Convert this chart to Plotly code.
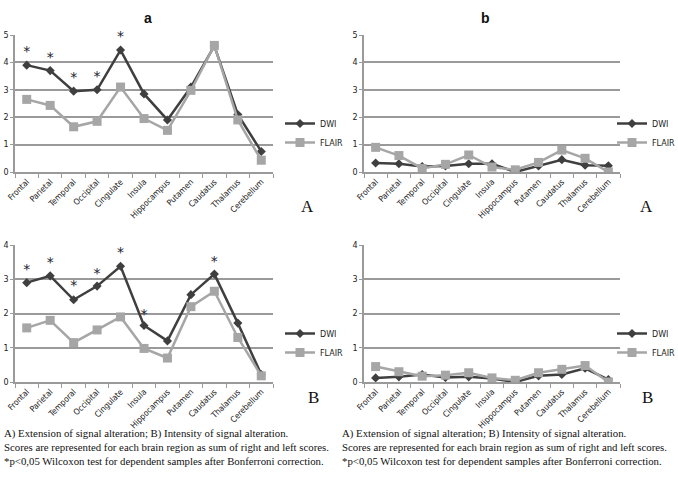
import plotly.graph_objects as go

regions = ['Frontal', 'Parietal', 'Temporal', 'Occipital', 'Cingulate', 'Insula',
           'Hippocampus', 'Putamen', 'Caudatus', 'Thalamus', 'Cerebellum']

# a, A) extension
a_ext_dwi = [3.9, 3.7, 2.95, 3.0, 4.45, 2.85, 1.9, 3.1, 4.6, 2.1, 0.75]
a_ext_flair = [2.65, 2.43, 1.65, 1.85, 3.1, 1.95, 1.52, 2.98, 4.62, 1.9, 0.43]
a_ext_star = [4.35, 4.15, 3.4, 3.45, 4.9, None, None, None, None, None, None]

# b, A) extension
b_ext_dwi = [0.33, 0.3, 0.2, 0.22, 0.3, 0.3, 0.0, 0.22, 0.45, 0.25, 0.23]
b_ext_flair = [0.9, 0.6, 0.13, 0.28, 0.62, 0.18, 0.08, 0.35, 0.8, 0.5, 0.0]

# a, B) intensity
a_int_dwi = [2.9, 3.1, 2.4, 2.8, 3.38, 1.65, 1.2, 2.55, 3.15, 1.72, 0.22]
a_int_flair = [1.58, 1.8, 1.15, 1.52, 1.9, 0.98, 0.7, 2.2, 2.65, 1.3, 0.18]
a_int_star = [3.25, 3.45, 2.8, 3.15, 3.75, 1.95, None, None, 3.5, None, None]

# b, B) intensity
b_int_dwi = [0.12, 0.15, 0.22, 0.13, 0.15, 0.1, 0.0, 0.18, 0.22, 0.4, 0.07]
b_int_flair = [0.45, 0.3, 0.17, 0.2, 0.27, 0.12, 0.05, 0.27, 0.37, 0.48, 0.0]

caption = ("A) Extension of signal alteration; B) Intensity of signal alteration.<br>"
           "Scores are represented for each brain region as sum of right and left scores.<br>"
           "*p&lt;0,05 Wilcoxon test for dependent samples after Bonferroni correction.")

W, H = 678, 484
DWI_C = '#3f3f3f'
FLAIR_C = '#a6a6a6'
GRID_C = '#9a9a9a'


def px(x):
    return x / W


def py(y):
    return 1 - y / H


fig = go.Figure()

# px boxes: (x0, x1, ytop, ybottom)
panels = [
    (a_ext_dwi, a_ext_flair, a_ext_star, (15, 273, 35, 172), 5),
    (b_ext_dwi, b_ext_flair, None, (364, 620, 35, 172), 5),
    (a_int_dwi, a_int_flair, a_int_star, (15, 273, 245, 382), 4),
    (b_int_dwi, b_int_flair, None, (364, 620, 245, 382), 4),
]
legend_pos = [(280, 118), (612, 118), (280, 328), (612, 328)]

for i, (dwi, flair, star, box, ymax) in enumerate(panels):
    n = i + 1
    sfx = '' if n == 1 else str(n)
    lg = 'legend' if n == 1 else 'legend' + str(n)
    xa, ya = 'x' + sfx, 'y' + sfx
    fig.add_trace(go.Scatter(x=regions, y=dwi, name='DWI', mode='lines+markers',
                             line=dict(color=DWI_C, width=2.5),
                             marker=dict(symbol='diamond', size=7, color=DWI_C),
                             xaxis=xa, yaxis=ya, legend=lg))
    fig.add_trace(go.Scatter(x=regions, y=flair, name='FLAIR', mode='lines+markers',
                             line=dict(color=FLAIR_C, width=2.5),
                             marker=dict(symbol='square', size=9, color=FLAIR_C),
                             xaxis=xa, yaxis=ya, legend=lg))
    if star:
        fig.add_trace(go.Scatter(x=regions, y=star, mode='text', cliponaxis=False,
                                 text=['*' if s is not None else '' for s in star],
                                 textfont=dict(size=14, color='#23232e', family='DejaVu Sans'),
                                 showlegend=False, xaxis=xa, yaxis=ya))
    x0, x1, yt, yb = box
    fig.update_layout(**{
        'xaxis' + sfx: dict(domain=[px(x0), px(x1)], anchor=ya, type='category',
                            range=[-0.5, 10.5], tickson='boundaries', ticks='outside',
                            ticklen=4, tickcolor=GRID_C, showline=True, linecolor=GRID_C,
                            linewidth=1.5, showgrid=False, tickangle=-45, automargin=False,
                            tickfont=dict(size=8.4, family='DejaVu Sans Condensed', color='#222')),
        'yaxis' + sfx: dict(domain=[py(yb), py(yt)], anchor=xa, range=[0, ymax],
                            dtick=1, showgrid=True, gridcolor=GRID_C, gridwidth=1.5,
                            showline=True, linecolor=GRID_C, linewidth=1.5, zeroline=False,
                            ticks='outside', ticklen=3, tickcolor=GRID_C, automargin=False,
                            tickfont=dict(size=8, family='DejaVu Sans', color='#222')),
    })
    lx, ly = legend_pos[i]
    fig.update_layout(**{lg: dict(x=px(lx), y=py(ly - 9), xanchor='left', yanchor='top',
                                  bgcolor='rgba(0,0,0,0)', itemwidth=30,
                                  font=dict(size=8, family='DejaVu Sans', color='#222'),
                                  tracegroupgap=0)})

for txt, x, y, sz, fam, bold in [
    ('a', 142, 8, 14, 'Liberation Sans', True),
    ('b', 492, 8, 14, 'Liberation Sans', True),
    ('A', 307, 207, 17, 'Liberation Serif', False),
    ('A', 655, 207, 17, 'Liberation Serif', False),
    ('B', 313, 409, 17, 'Liberation Serif', False),
    ('B', 655, 409, 17, 'Liberation Serif', False),
]:
    fig.add_annotation(text='<b>%s</b>' % txt if bold else txt, x=px(x), y=py(y),
                       xref='paper', yref='paper', showarrow=False,
                       font=dict(size=sz, family=fam, color='#111'))

for x in (2, 340):
    fig.add_annotation(text=caption, x=px(x), y=py(425), xref='paper', yref='paper',
                       xanchor='left', yanchor='top', align='left', showarrow=False,
                       font=dict(size=10.8, family='Liberation Serif', color='#111'))

fig.update_layout(width=W, height=H, margin=dict(l=0, r=0, t=0, b=0, autoexpand=False),
                  plot_bgcolor='white', paper_bgcolor='white')

# drop the browser's default 8px body margin so the figure sits at the window corner
fig.write_html('out.html', config={'displayModeBar': False},
               post_script="document.body.style.margin = '0px';")
